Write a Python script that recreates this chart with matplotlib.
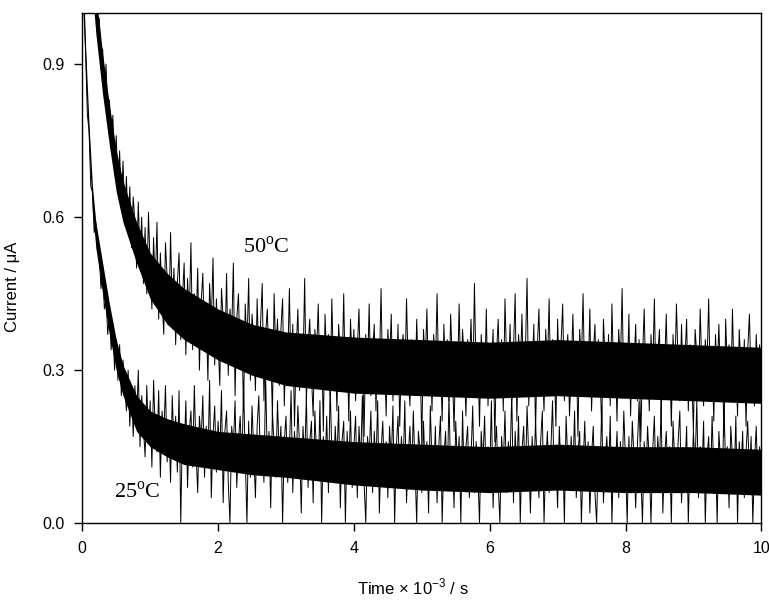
import numpy as np
import matplotlib.pyplot as plt

# chronoamperometry, 25 C and 50 C
# dense core of each trace
t_band25 = [0, 0.05, 0.1, 0.15, 0.2, 0.3, 0.4, 0.5, 0.6, 0.8, 1.0, 1.25, 1.5, 2, 2.5, 3, 4, 5, 6, 7, 8, 9, 10]
lo25 = [1.06, 0.87, 0.73, 0.61, 0.54, 0.45, 0.37, 0.30, 0.25, 0.18, 0.15, 0.13, 0.115, 0.105, 0.095, 0.09,
        0.075, 0.065, 0.06, 0.065, 0.06, 0.06, 0.055]
hi25 = [1.14, 0.93, 0.78, 0.66, 0.59, 0.51, 0.43, 0.36, 0.31, 0.25, 0.22, 0.205, 0.195, 0.18, 0.175, 0.17,
        0.16, 0.155, 0.15, 0.155, 0.15, 0.15, 0.145]

t_band50 = [0.15, 0.2, 0.3, 0.4, 0.5, 0.6, 0.8, 1.0, 1.25, 1.5, 2, 2.5, 3, 4, 5, 6, 7, 8, 9, 10]
lo50 = [1.04, 0.96, 0.84, 0.74, 0.65, 0.59, 0.51, 0.44, 0.39, 0.36, 0.32, 0.29, 0.27, 0.255, 0.25,
        0.245, 0.25, 0.245, 0.24, 0.235]
hi50 = [1.12, 1.04, 0.92, 0.82, 0.73, 0.67, 0.59, 0.53, 0.49, 0.46, 0.42, 0.39, 0.375, 0.365, 0.36,
        0.355, 0.36, 0.355, 0.35, 0.345]

# noisy traces, one reading every 0.025 (x 10^-3 s)
i25 = [1.12, 1.00, 0.92, 0.80, 0.77, 0.66, 0.65, 0.57, 0.59, 0.53,
       0.53, 0.46, 0.49, 0.42, 0.44, 0.37, 0.41, 0.34, 0.39, 0.30,
       0.36, 0.28, 0.35, 0.25, 0.32, 0.27, 0.22, 0.30, 0.19, 0.27,
       0.17, 0.27, 0.20, 0.30, 0.15, 0.25, 0.19, 0.13, 0.27, 0.16,
       0.24, 0.11, 0.28, 0.18, 0.14, 0.26, 0.09, 0.22, 0.17, 0.27,
       0.12, 0.20, 0.08, 0.25, 0.15, 0.21, 0.10, 0.26, 0.00, 0.19,
       0.13, 0.24, 0.07, 0.18, 0.22, 0.11, 0.27, 0.14, 0.06, 0.21,
       0.16, 0.25, 0.09, 0.19, 0.12, 0.28, 0.05, 0.17, 0.23, 0.10,
       0.20, 0.13, 0.26, 0.04, 0.18, 0.22, 0.08, 0.00, 0.19, 0.15,
       0.24, 0.07, 0.16, 0.21, 0.11, 0.27, 0.13, 0.00, 0.20, 0.09,
       0.23, 0.14, 0.05, 0.19, 0.25, 0.10, 0.17, 0.08, 0.29, 0.12,
       0.18, 0.03, 0.22, 0.15, 0.09, 0.24, 0.13, 0.19, 0.00, 0.16,
       0.21, 0.08, 0.14, 0.26, 0.06, 0.18, 0.11, 0.23, 0.15, 0.02,
       0.19, 0.12, 0.25, 0.07, 0.16, 0.20, 0.04, 0.22, 0.13, 0.09,
       0.24, 0.00, 0.17, 0.11, 0.21, 0.06, 0.27, 0.14, 0.08, 0.19,
       0.12, 0.23, 0.03, 0.16, 0.20, 0.00, 0.18, 0.10, 0.22, 0.07,
       0.15, 0.21, 0.05, 0.19, 0.12, 0.25, 0.08, 0.00, 0.17, 0.13,
       0.22, 0.06, 0.18, 0.11, 0.24, 0.02, 0.14, 0.20, 0.09, 0.16,
       0.05, 0.19, 0.12, 0.23, 0.00, 0.15, 0.21, 0.07, 0.17, 0.10,
       0.24, 0.04, 0.13, 0.19, 0.08, 0.22, 0.11, 0.00, 0.18, 0.14,
       0.06, 0.20, 0.10, 0.16, 0.02, 0.23, 0.12, 0.08, 0.19, 0.04,
       0.15, 0.21, 0.00, 0.13, 0.18, 0.07, 0.25, 0.09, 0.14, 0.03,
       0.20, 0.11, 0.17, 0.00, 0.22, 0.08, 0.15, 0.19, 0.05, 0.13,
       0.23, 0.06, 0.16, 0.10, 0.00, 0.18, 0.12, 0.21, 0.07, 0.15,
       0.09, 0.24, 0.03, 0.14, 0.19, 0.08, 0.00, 0.17, 0.11, 0.22,
       0.06, 0.16, 0.12, 0.26, 0.04, 0.18, 0.10, 0.21, 0.00, 0.14,
       0.19, 0.07, 0.23, 0.13, 0.02, 0.17, 0.09, 0.20, 0.11, 0.05,
       0.16, 0.22, 0.00, 0.12, 0.18, 0.06, 0.14, 0.24, 0.08, 0.13,
       0.03, 0.19, 0.10, 0.15, 0.00, 0.21, 0.12, 0.07, 0.17, 0.09,
       0.22, 0.05, 0.14, 0.18, 0.00, 0.11, 0.20, 0.08, 0.16, 0.02,
       0.13, 0.19, 0.06, 0.00, 0.15, 0.10, 0.23, 0.04, 0.12, 0.17,
       0.08, 0.21, 0.00, 0.14, 0.11, 0.18, 0.05, 0.16, 0.09, 0.22,
       0.12, 0.00, 0.17, 0.07, 0.20, 0.13, 0.03, 0.15, 0.24, 0.10,
       0.00, 0.16, 0.08, 0.19, 0.12, 0.00, 0.14, 0.21, 0.06, 0.17,
       0.11, 0.23, 0.02, 0.13, 0.18, 0.09, 0.15, 0.00, 0.20, 0.12,
       0.07, 0.16, 0.22, 0.04, 0.13, 0.10, 0.19, 0.00, 0.14, 0.08,
       0.18, 0.11, 0.24, 0.05, 0.15, 0.09, 0.20, 0.00, 0.13, 0.17,
       0.06, 0.21, 0.10, 0.14, 0.00, 0.18, 0.12, 0.07, 0.23, 0.11,
       0.15, 0.03, 0.19, 0.13, 0.08, 0.21, 0.00, 0.16, 0.10, 0.18,
       0.05, 0.14, 0.20, 0.09, 0.17, 0.00, 0.12, 0.19, 0.07, 0.15,
       0.11]
i50 = [1.12, 1.01, 1.05, 0.95, 0.99, 0.89, 0.93, 0.84, 0.90, 0.80,
       0.83, 0.74, 0.80, 0.70, 0.76, 0.66, 0.73, 0.62, 0.71, 0.60,
       0.68, 0.57, 0.66, 0.54, 0.64, 0.59, 0.50, 0.63, 0.52, 0.60,
       0.47, 0.58, 0.45, 0.61, 0.50, 0.42, 0.56, 0.46, 0.59, 0.40,
       0.53, 0.44, 0.37, 0.55, 0.48, 0.39, 0.57, 0.42, 0.50, 0.35,
       0.47, 0.53, 0.36, 0.44, 0.51, 0.33, 0.48, 0.40, 0.55, 0.34,
       0.45, 0.38, 0.50, 0.30, 0.43, 0.49, 0.35, 0.41, 0.28, 0.47,
       0.39, 0.52, 0.31, 0.44, 0.36, 0.27, 0.46, 0.40, 0.33, 0.49,
       0.29, 0.42, 0.37, 0.51, 0.25, 0.40, 0.45, 0.31, 0.38, 0.22,
       0.43, 0.34, 0.48, 0.28, 0.41, 0.36, 0.26, 0.44, 0.32, 0.39,
       0.47, 0.24, 0.37, 0.42, 0.30, 0.35, 0.21, 0.45, 0.33, 0.40,
       0.27, 0.38, 0.44, 0.23, 0.36, 0.31, 0.46, 0.28, 0.39, 0.19,
       0.34, 0.42, 0.26, 0.37, 0.30, 0.48, 0.24, 0.35, 0.40, 0.29,
       0.21, 0.38, 0.33, 0.43, 0.27, 0.36, 0.18, 0.41, 0.31, 0.37,
       0.25, 0.44, 0.30, 0.35, 0.22, 0.39, 0.33, 0.28, 0.45, 0.26,
       0.36, 0.20, 0.40, 0.31, 0.38, 0.24, 0.34, 0.42, 0.27, 0.35,
       0.17, 0.37, 0.29, 0.43, 0.25, 0.33, 0.39, 0.22, 0.36, 0.30,
       0.46, 0.26, 0.34, 0.21, 0.38, 0.31, 0.41, 0.24, 0.35, 0.28,
       0.39, 0.19, 0.33, 0.37, 0.27, 0.44, 0.30, 0.23, 0.36, 0.32,
       0.25, 0.40, 0.29, 0.34, 0.15, 0.38, 0.31, 0.42, 0.26, 0.35,
       0.22, 0.37, 0.30, 0.45, 0.27, 0.33, 0.20, 0.39, 0.29, 0.36,
       0.24, 0.41, 0.31, 0.18, 0.35, 0.28, 0.43, 0.26, 0.38, 0.32,
       0.21, 0.36, 0.30, 0.40, 0.25, 0.47, 0.29, 0.34, 0.19, 0.37,
       0.31, 0.26, 0.42, 0.23, 0.35, 0.30, 0.38, 0.16, 0.33, 0.40,
       0.27, 0.36, 0.22, 0.44, 0.31, 0.28, 0.39, 0.24, 0.34, 0.45,
       0.20, 0.37, 0.30, 0.41, 0.26, 0.33, 0.48, 0.23, 0.35, 0.29,
       0.39, 0.18, 0.34, 0.42, 0.27, 0.31, 0.22, 0.38, 0.30, 0.44,
       0.25, 0.36, 0.32, 0.19, 0.40, 0.28, 0.35, 0.43, 0.24, 0.33,
       0.37, 0.21, 0.30, 0.41, 0.27, 0.34, 0.17, 0.38, 0.31, 0.45,
       0.26, 0.35, 0.29, 0.42, 0.22, 0.33, 0.39, 0.25, 0.36, 0.30,
       0.18, 0.40, 0.32, 0.27, 0.37, 0.23, 0.43, 0.29, 0.34, 0.20,
       0.38, 0.31, 0.46, 0.25, 0.33, 0.28, 0.41, 0.21, 0.35, 0.30,
       0.39, 0.24, 0.36, 0.16, 0.32, 0.42, 0.27, 0.34, 0.22, 0.37,
       0.29, 0.44, 0.25, 0.33, 0.38, 0.20, 0.35, 0.30, 0.41, 0.26,
       0.34, 0.19, 0.37, 0.28, 0.43, 0.31, 0.24, 0.39, 0.27, 0.32,
       0.40, 0.22, 0.35, 0.29, 0.18, 0.38, 0.33, 0.26, 0.42, 0.30,
       0.23, 0.36, 0.31, 0.44, 0.25, 0.34, 0.20, 0.37, 0.29, 0.39,
       0.27, 0.33, 0.17, 0.40, 0.30, 0.35, 0.24, 0.42, 0.28, 0.32,
       0.21, 0.38, 0.30, 0.26, 0.36, 0.19, 0.34, 0.41, 0.27, 0.33,
       0.23, 0.37, 0.29, 0.35, 0.25]
t25 = np.linspace(0, 10, len(i25))
t50 = np.linspace(0.15, 10, len(i50))

sans = 'Liberation Sans'
serif = 'Liberation Serif'

fig = plt.figure(figsize=(7.69, 6.0), dpi=100)
ax = fig.add_axes([0.107, 0.128, 0.883, 0.85])

ax.fill_between(t_band25, lo25, hi25, color='k', lw=0)
ax.fill_between(t_band50, lo50, hi50, color='k', lw=0)
ax.plot(t25, i25, color='k', lw=0.7)
ax.plot(t50, i50, color='k', lw=0.7)

ax.text(2.36, 0.53, '50$^{\\mathregular{o}}$C', family=serif, fontsize=16)
ax.text(0.46, 0.05, '25$^{\\mathregular{o}}$C', family=serif, fontsize=16)

ax.set_xlim(0, 10)
ax.set_ylim(0, 1.0)
ax.set_xticks([0, 2, 4, 6, 8, 10])
ax.set_yticks([0.0, 0.3, 0.6, 0.9])
ax.set_yticklabels(['0.0', '0.3', '0.6', '0.9'])
ax.tick_params(direction='out', length=6, width=1, labelsize=11.5, pad=7)
for lab in ax.get_xticklabels() + ax.get_yticklabels():
    lab.set_family(sans)
for s in ax.spines.values():
    s.set_linewidth(1.0)

ax.set_xlabel('Time \u00d7 10$^{\\mathregular{-3}}$ / s', family=sans, fontsize=12)
ax.set_ylabel('Current / \u03bcA', family=sans, fontsize=12)
ax.xaxis.set_label_coords(0.487, -0.106)
ax.yaxis.set_label_coords(-0.091, 0.463)

plt.savefig('out.png', dpi=100)
